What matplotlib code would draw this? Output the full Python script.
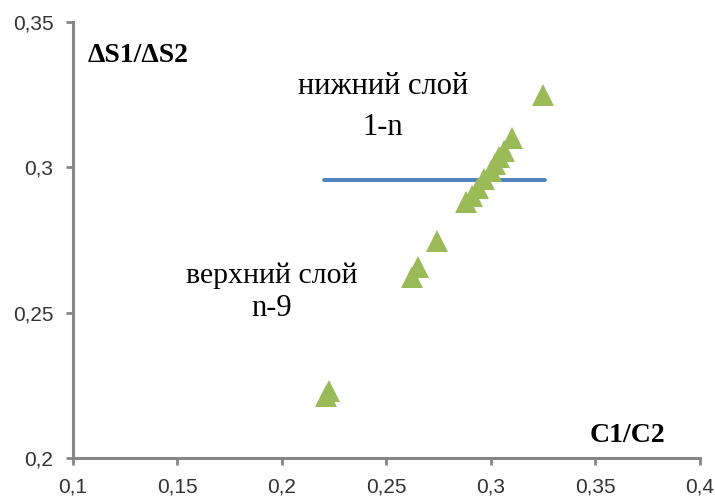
import matplotlib
matplotlib.use('Agg')
import matplotlib.pyplot as plt
from matplotlib.ticker import FuncFormatter

# C1/C2 vs dS1/dS2
c_ratio = [0.221, 0.2225, 0.262, 0.265, 0.274, 0.288, 0.291, 0.294, 0.2968,
           0.300, 0.302, 0.304, 0.306, 0.310, 0.325]
s_ratio = [0.2214, 0.2232, 0.2624, 0.2659, 0.2745, 0.288, 0.290, 0.293, 0.2959,
           0.2986, 0.301, 0.3034, 0.3055, 0.310, 0.325]

# horizontal boundary line
line_x = [0.22, 0.326]
line_y = [0.2955, 0.2955]

xticks = [0.1, 0.15, 0.2, 0.25, 0.3, 0.35, 0.4]
yticks = [0.2, 0.25, 0.3, 0.35]

fig = plt.figure(figsize=(7.15, 4.98), dpi=100)
ax = fig.add_axes([0.102, 0.080, 0.877, 0.876])

ax.plot(line_x, line_y, color='#4F81BD', lw=2.8, solid_capstyle='round', zorder=2)
ax.plot(c_ratio, s_ratio, linestyle='none', marker='^', ms=16,
        color='#9BBB59', markeredgewidth=0, zorder=3)

ax.set_xlim(0.1, 0.4)
ax.set_ylim(0.2, 0.35)
ax.set_xticks(xticks)
ax.set_yticks(yticks)

fmt = FuncFormatter(lambda v, p: ('%g' % round(v, 3)).replace('.', ','))
ax.xaxis.set_major_formatter(fmt)
ax.yaxis.set_major_formatter(fmt)

for side in ['top', 'right']:
    ax.spines[side].set_visible(False)
for side in ['left', 'bottom']:
    ax.spines[side].set_color('#868686')
    ax.spines[side].set_linewidth(2.2)
    ax.spines[side].set_capstyle('projecting')

ax.tick_params(direction='out', length=5, width=2, color='#868686',
               labelsize=15, labelcolor='#333333', pad=9)
for lab in ax.get_xticklabels() + ax.get_yticklabels():
    lab.set_family('Liberation Sans')

serif = 'Liberation Serif'
ax.text(0.2484, 0.3279, 'нижний слой', ha='center', va='center', fontsize=22, family=serif)
ax.text(0.2484, 0.3138, '1-n', ha='center', va='center', fontsize=22, family=serif)
ax.text(0.1952, 0.2628, 'верхний слой', ha='center', va='center', fontsize=21.5, family=serif)
ax.text(0.1952, 0.2515, 'n-9', ha='center', va='center', fontsize=22, family=serif)
ax.text(0.107, 0.3383, 'ΔS1/ΔS2', ha='left', va='center', fontsize=20,
        fontweight='bold', family=serif)
ax.text(0.3654, 0.2079, 'C1/C2', ha='center', va='center', fontsize=20,
        fontweight='bold', family=serif)

fig.savefig('out.png', dpi=100)
